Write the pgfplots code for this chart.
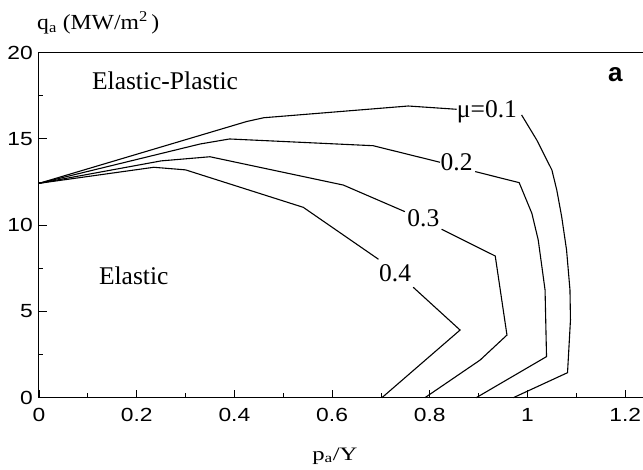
\documentclass[border=0pt]{standalone}
\usepackage{fontspec}
\setmainfont{Liberation Serif}
\newfontfamily\tickfont[FakeStretch=1.2]{Liberation Sans}
\newfontfamily\labfont[FakeStretch=1.1]{Liberation Serif}
\newfontfamily\xlabfont[FakeStretch=1.3]{Liberation Serif}
\newfontfamily\boldsans{Liberation Sans}
\usepackage{pgfplots}
\pgfplotsset{compat=1.18}
\begin{document}
\begin{tikzpicture}
\path[use as bounding box] (-39pt,-71.3pt) rectangle (604pt,397.7pt);
\begin{axis}[
  at={(0pt,0pt)}, anchor=south west,
  scale only axis, width=604pt, height=345.2pt,
  xmin=0, xmax=1.2365, ymin=0, ymax=20,
  axis x line*=box, axis y line*=left,
  tick pos=left, tick align=inside,
  xtick={0,0.2,0.4,0.6,0.8,1,1.2}, ytick={0,5,10,15,20},
  minor x tick num=1, minor y tick num=1,
  major tick length=7.7pt, minor tick length=4.3pt,
  every tick/.style={black, line width=0.8pt},
  axis line style={black, line width=1pt},
  /pgf/number format/assume math mode=true,
  ticklabel style={font=\tickfont\fontsize{19}{21}\selectfont, inner sep=0pt},
  xticklabel style={anchor=north, yshift=-10.6pt},
  yticklabel style={anchor=east, xshift=-6pt},
  xlabel={p\textsubscript{a}/Y},
  xlabel style={at={(axis description cs:0.49,-0.1805)}, anchor=base, inner sep=0pt, font=\xlabfont\fontsize{19}{22}\selectfont},
  unbounded coords=jump,
  clip=false,
]
% mu = 0.1
\addplot[black, line width=1.1pt] coordinates {
 (0,12.42) (0.425,16.0) (0.46,16.22) (0.756,16.9) (0.855,16.71)
 (0.9,nan)
 (0.988,16.38) (1.019,14.93) (1.05,13.19) (1.06,12.03) (1.07,10.49) (1.08,8.56) (1.087,6.24) (1.088,4.5) (1.082,1.45) (0.971,0)
};
% mu = 0.2
\addplot[black, line width=1.1pt] coordinates {
 (0,12.42) (0.33,14.7) (0.39,14.99) (0.684,14.6) (0.821,13.64)
 (0.85,nan)
 (0.893,13.1) (0.983,12.46) (1.009,10.68) (1.022,9.14) (1.036,6.24) (1.039,2.38) (0.895,0)
};
% mu = 0.3
\addplot[black, line width=1.1pt] coordinates {
 (0,12.42) (0.25,13.72) (0.35,13.96) (0.623,12.32) (0.749,10.78)
 (0.78,nan)
 (0.824,9.76) (0.934,8.21) (0.958,3.63) (0.903,2.18) (0.79,0)
};
% mu = 0.4
\addplot[black, line width=1.1pt] coordinates {
 (0,12.42) (0.235,13.35) (0.30,13.2) (0.541,11.03) (0.695,8.02)
 (0.73,nan)
 (0.766,6.4) (0.862,3.92) (0.702,0)
};
\node[anchor=base west, inner sep=0pt, font=\labfont\fontsize{21.5}{24}\selectfont] at (axis cs:-0.004,21.35) {q\textsubscript{a} (MW/m\textsuperscript{2}\,)};
\node[anchor=base, inner sep=0pt, font=\fontsize{25.5}{30}\selectfont] at (axis cs:0.917,16.24) {μ=0.1};
\node[anchor=base, inner sep=0pt, font=\fontsize{25.5}{30}\selectfont] at (axis cs:0.855,13.19) {0.2};
\node[anchor=base, inner sep=0pt, font=\fontsize{25.5}{30}\selectfont] at (axis cs:0.787,9.91) {0.3};
\node[anchor=base, inner sep=0pt, font=\fontsize{25.5}{30}\selectfont] at (axis cs:0.729,6.72) {0.4};
\node[anchor=base, inner sep=0pt, font=\fontsize{25.5}{30}\selectfont] at (axis cs:0.258,17.83) {Elastic-Plastic};
\node[anchor=base, inner sep=0pt, font=\fontsize{25.5}{30}\selectfont] at (axis cs:0.194,6.53) {Elastic};
\node[anchor=base, inner sep=0pt, font=\boldsans\bfseries\fontsize{26}{30}\selectfont] at (axis cs:1.18,18.31) {a};
\end{axis}
\end{tikzpicture}
\end{document}
